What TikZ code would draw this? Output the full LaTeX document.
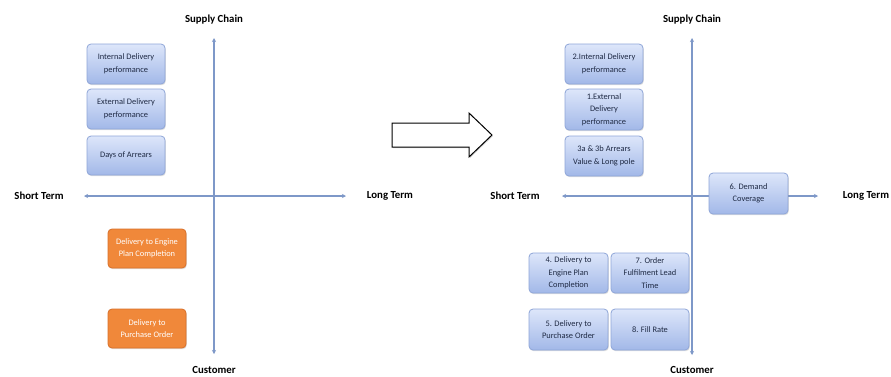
\documentclass[tikz,border=0pt]{standalone}
\usepackage{fontspec}
\setmainfont{Carlito}
\usetikzlibrary{arrows.meta,shadows}
\definecolor{axisblue}{HTML}{7E98C8}
\definecolor{boxtop}{HTML}{DDE6FA}
\definecolor{boxbot}{HTML}{A2B8E8}
\definecolor{boxline}{HTML}{8FA6D8}
\definecolor{boxtext}{HTML}{1F2A44}
\definecolor{orangefill}{HTML}{F0883A}
\definecolor{orangeline}{HTML}{D8702A}
\tikzset{
  metric/.style={draw=boxline, line width=0.8pt, rounded corners=4pt,
    top color=boxtop, bottom color=boxbot, text=boxtext,
    minimum width=78pt, minimum height=40pt, align=center,
    font=\fontsize{8.4}{12.5}\selectfont, inner sep=1pt,
    drop shadow={shadow xshift=0.8pt, shadow yshift=-1.2pt, opacity=0.25}},
  hotmetric/.style={draw=orangeline, line width=0.8pt, rounded corners=4pt,
    fill=orangefill, text=white,
    minimum width=78pt, minimum height=39pt, align=center,
    font=\fontsize{8.4}{12.5}\selectfont, inner sep=1pt,
    drop shadow={shadow xshift=0.8pt, shadow yshift=-1.2pt, opacity=0.25}},
  axis/.style={draw=axisblue, line width=1.4pt, {Stealth[length=4pt,width=4pt]}-{Stealth[length=4pt,width=4pt]}},
  axislabel/.style={font=\bfseries\fontsize{10.8}{12}\selectfont, text=black, inner sep=1pt},
}
\begin{document}
\begin{tikzpicture}[x=1pt,y=-1pt]
\useasboundingbox[fill=white] (0,0) rectangle (891,376);

% ---------- current view ----------
\coordinate (Ltop) at (214,38);
\coordinate (Lbot) at (214,354);
\coordinate (Lleft) at (84,196);
\coordinate (Lright) at (346,196);
\draw[axis] (Lleft) -- (Lright);
\draw[axis] (Ltop) -- (Lbot);
\node[axislabel] (Lsc) at (214,20) {Supply Chain};
\node[axislabel] (Lcu) at (214,370) {Customer};
\node[axislabel] (Lst) at (39,196) {Short Term};
\node[axislabel] (Llt) at (390,196) {Long Term};

\node[metric] (Lint) at (126,64) {Internal Delivery\\performance};
\node[metric] (Lext) at (126,109) {External Delivery\\performance};
\node[metric, minimum height=39pt] (Ldoa) at (126,155.5) {Days of Arrears};
\node[hotmetric] (Lengine) at (147,248.5) {Delivery to Engine\\Plan Completion};
\node[hotmetric] (Lpo) at (147,328.5) {Delivery to\\Purchase Order};

% ---------- transition arrow ----------
\draw[black, line width=1pt, fill=white,
  drop shadow={shadow xshift=1pt, shadow yshift=-1pt, opacity=0.35}]
  (392,123) -- (469,123) -- (469,113) -- (492,135) -- (469,157)
  -- (469,147) -- (392,147) -- cycle;

% ---------- proposed view ----------
\coordinate (Rtop) at (692,38);
\coordinate (Rbot) at (692,355);
\coordinate (Rleft) at (562,196);
\coordinate (Rright) at (818,196);
\draw[axis] (Rleft) -- (Rright);
\draw[axis] (Rtop) -- (Rbot);
\node[axislabel] (Rsc) at (692,20) {Supply Chain};
\node[axislabel] (Rcu) at (692,370) {Customer};
\node[axislabel] (Rst) at (515,196) {Short Term};
\node[axislabel] (Rlt) at (866,196) {Long Term};

\node[metric] (Rint) at (604,64) {2.Internal Delivery\\performance};
\node[metric, minimum height=41pt] (Rext) at (604,109.5) {1.External\\Delivery\\performance};
\node[metric] (Rarr) at (604,156) {3a \& 3b Arrears\\Value \& Long pole};
\node[metric, minimum width=79pt, minimum height=41pt] (Rdem) at (748.5,193.5) {6. Demand\\Coverage};
\node[metric, minimum width=79pt] (Reng) at (568.5,273) {4. Delivery to\\Engine Plan\\Completion};
\node[metric] (Rofl) at (650,273) {7. Order\\Fulfilment Lead\\Time};
\node[metric, minimum width=79pt, minimum height=41pt] (Rpo) at (568.5,329.5) {5. Delivery to\\Purchase Order};
\node[metric, minimum height=41pt] (Rfill) at (650,329.5) {8. Fill Rate};
\end{tikzpicture}
\end{document}
